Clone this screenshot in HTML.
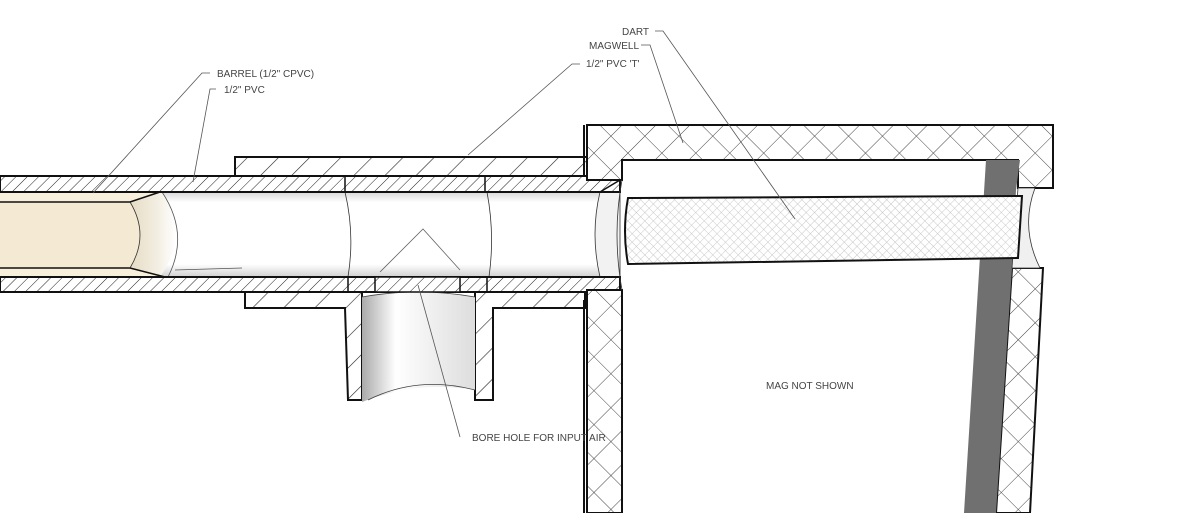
<!DOCTYPE html>
<html><head><meta charset="utf-8"><style>
html,body{margin:0;padding:0;background:#fff;}
svg{display:block;}
text{font-family:"Liberation Sans",sans-serif;font-size:10px;fill:#444;}
</style></head><body>
<svg width="1200" height="513" viewBox="0 0 1200 513" xmlns="http://www.w3.org/2000/svg">
<defs>
<pattern id="h1" patternUnits="userSpaceOnUse" width="8" height="8" patternTransform="rotate(45)">
<rect width="8" height="8" fill="#fff"/><line x1="0" y1="0" x2="0" y2="8" stroke="#222" stroke-width="1"/></pattern>
<pattern id="h2" patternUnits="userSpaceOnUse" width="22" height="22" patternTransform="rotate(45)">
<rect width="22" height="22" fill="#fff"/><line x1="0" y1="0" x2="0" y2="22" stroke="#222" stroke-width="1.2"/></pattern>
<pattern id="x1" patternUnits="userSpaceOnUse" width="24" height="24" patternTransform="rotate(45)">
<rect width="24" height="24" fill="#fff"/><line x1="0" y1="0" x2="0" y2="24" stroke="#444" stroke-width="1"/><line x1="0" y1="0" x2="24" y2="0" stroke="#444" stroke-width="1"/></pattern>
<pattern id="x2" patternUnits="userSpaceOnUse" width="6" height="6" patternTransform="rotate(45)">
<rect width="6" height="6" fill="#fff"/><line x1="0" y1="0" x2="0" y2="6" stroke="#bbb" stroke-width="0.8"/><line x1="0" y1="0" x2="6" y2="0" stroke="#bbb" stroke-width="0.8"/></pattern>
<linearGradient id="tube" x1="0" y1="0" x2="0" y2="1">
<stop offset="0" stop-color="#d8d8d8"/><stop offset="0.12" stop-color="#fff"/><stop offset="0.85" stop-color="#fff"/><stop offset="1" stop-color="#d0d0d0"/></linearGradient>
<linearGradient id="face" x1="0" y1="0" x2="1" y2="0">
<stop offset="0" stop-color="#e6dcc4"/><stop offset="0.6" stop-color="#f3eee2"/><stop offset="1" stop-color="#fff"/></linearGradient>
<linearGradient id="cyl" x1="0" y1="0" x2="1" y2="0">
<stop offset="0" stop-color="#aaa"/><stop offset="0.3" stop-color="#fff"/><stop offset="1" stop-color="#ddd"/></linearGradient>
</defs>

<rect x="0" y="192" width="615" height="85" fill="url(#tube)"/>
<path d="M0,202 L130,202 L160,192 L160,277 L130,268 L0,268 Z" fill="#f4e9d2"/>
<path d="M130,202 Q150,235 130,268 L160,277 Q190,234 162,192 Z" fill="url(#face)"/>
<path d="M0,192 L160,192 L130,202 L0,202" fill="#f7efdc" stroke="#111" stroke-width="1.5"/>
<path d="M0,277 L165,277 L130,268 L0,268" fill="#f7efdc" stroke="#111" stroke-width="1.5"/>
<path d="M130,202 Q150,235 130,268" fill="none" stroke="#333" stroke-width="0.8"/>
<path d="M162,192 Q190,234 168,277" fill="none" stroke="#555" stroke-width="0.8"/>
<line x1="175" y1="270" x2="242" y2="268" stroke="#555" stroke-width="0.8"/>
<path d="M345,192 Q355,234 348,277 M487,192 Q495,234 489,277" fill="none" stroke="#333" stroke-width="0.8"/>
<path d="M600,192 L620,180 L620,292 L600,277 Q590,234 600,192Z" fill="#f2f2f2" stroke="#333" stroke-width="0.8"/>

<rect x="0" y="176" width="620" height="16" fill="url(#h1)" stroke="#111" stroke-width="2"/>
<path d="M600,192 L620,180" stroke="#111" stroke-width="1.5"/>
<rect x="0" y="277" width="620" height="15" fill="url(#h1)" stroke="#111" stroke-width="2"/>
<line x1="345" y1="176" x2="345" y2="192" stroke="#111" stroke-width="1.5"/>
<line x1="485" y1="176" x2="485" y2="192" stroke="#111" stroke-width="1.5"/>
<line x1="348" y1="277" x2="348" y2="292" stroke="#111" stroke-width="1.5"/>
<line x1="487" y1="277" x2="487" y2="292" stroke="#111" stroke-width="1.5"/>

<rect x="235" y="157" width="352" height="19" fill="url(#h2)" stroke="#111" stroke-width="2"/>
<path d="M245,292 L245,308 L345,308 L348,400 L362,400 L362,292 Z" fill="url(#h2)" stroke="#111" stroke-width="2"/>
<path d="M475,292 L475,400 L493,400 L493,308 L585,308 L585,292 Z" fill="url(#h2)" stroke="#111" stroke-width="2"/>
<path d="M362,297 Q418,287 475,297 L475,390 Q418,380 362,402 Z" fill="url(#cyl)"/>
<path d="M362,297 Q418,287 475,297 M368,400 Q418,375 475,390" fill="none" stroke="#444" stroke-width="0.8"/>
<rect x="375" y="277" width="85" height="15" fill="url(#h1)" stroke="#111" stroke-width="1.5"/>
<path d="M380,272 L423,229 L460,270" fill="none" stroke="#666" stroke-width="0.8"/>

<path d="M587,125 L1053,125 L1053,188 L1018,188 L1018,160 L622,160 L622,180 L587,180 Z" fill="url(#x1)" stroke="#111" stroke-width="2"/>
<path d="M587,290 L622,290 L622,513 L587,513 Z" fill="url(#x1)" stroke="#111" stroke-width="2"/>
<line x1="584" y1="125" x2="584" y2="175" stroke="#111" stroke-width="2"/>
<line x1="584" y1="300" x2="584" y2="513" stroke="#111" stroke-width="2"/>
<path d="M1012,268 L1043,268 L1030,513 L996,513 Z" fill="url(#x1)" stroke="#111" stroke-width="2"/>
<path d="M986,160 L1020,160 L1016,190 L1012,268 L996,513 L964,513 Z" fill="#707070"/>
<path d="M1018,188 L1035,188 Q1020,228 1040,268 L1012,268 Z" fill="#f0f0f0" stroke="#333" stroke-width="0.8"/>
<path d="M622,180 Q612,234 622,290" fill="none" stroke="#333" stroke-width="0.8"/>

<path d="M628,198 L1022,196 L1018,258 L628,264 Q622,231 628,198 Z" fill="url(#x2)" stroke="#111" stroke-width="2"/>

<g stroke="#555" stroke-width="0.8" fill="none">
<path d="M210,73 L202,73 L93,193"/>
<path d="M216,89 L210,89 L193,182"/>
<path d="M580,64 L572,64 L468,155"/>
<path d="M641,45 L650,45 L683,143"/>
<path d="M655,31 L663,31 L795,219"/>
<path d="M460,437 L418,285"/>
</g>
<text x="217" y="77">BARREL (1/2" CPVC)</text>
<text x="224" y="93">1/2" PVC</text>
<text x="586" y="67">1/2" PVC 'T'</text>
<text x="589" y="49">MAGWELL</text>
<text x="622" y="35">DART</text>
<text x="472" y="441">BORE HOLE FOR INPUT AIR</text>
<text x="766" y="389">MAG NOT SHOWN</text>
</svg>
</body></html>
